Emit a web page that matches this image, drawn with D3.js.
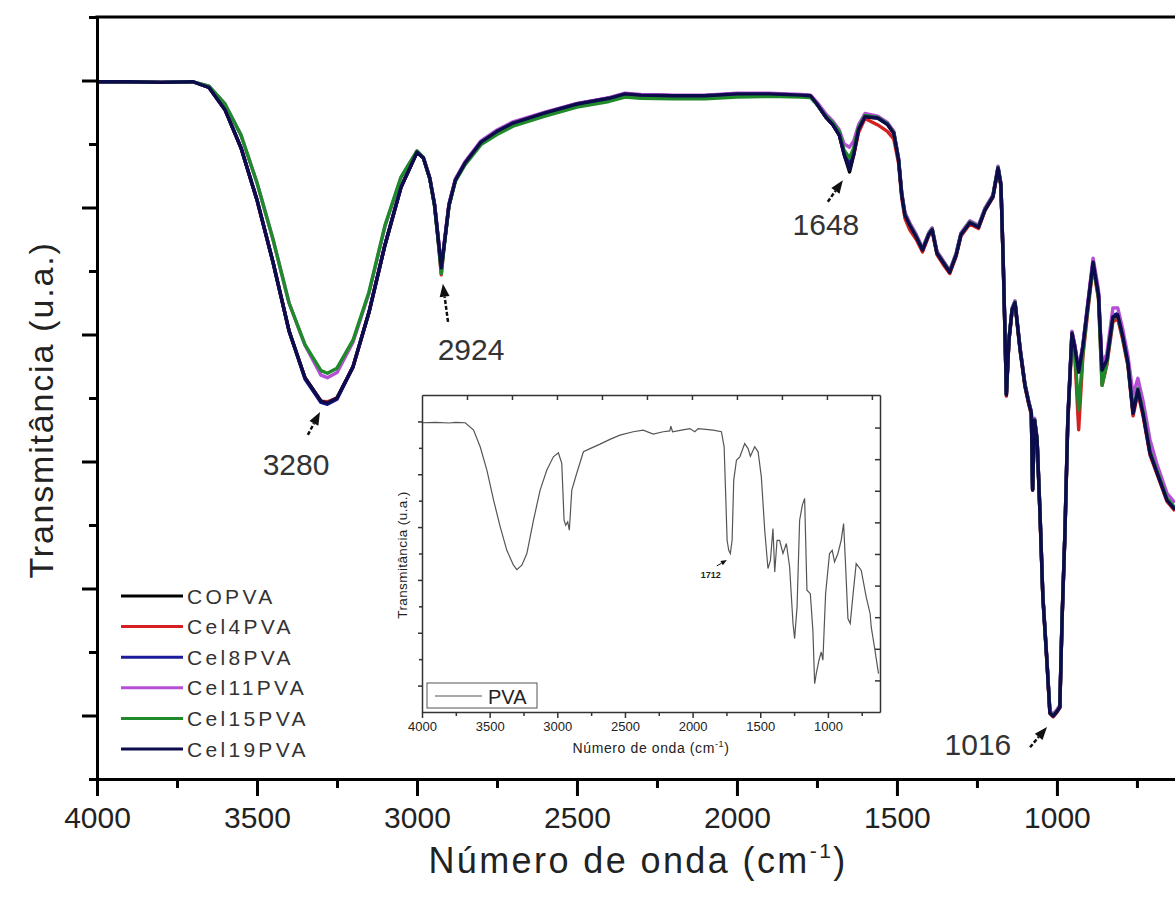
<!DOCTYPE html>
<html><head><meta charset="utf-8">
<script src="https://cdn.jsdelivr.net/npm/d3@7"></script>
<style>body{margin:0;background:#fff}svg{display:block}text{font-family:"Liberation Sans",Arial,sans-serif}</style>
</head><body><svg id="c" width="1175" height="900"></svg>
<script>
// ---------- data ----------
const seriesNames = ["COPVA","Cel4PVA","Cel8PVA","Cel11PVA","Cel15PVA","Cel19PVA"];
const seriesColors = ["#000000","#d42020","#1c1c9a","#b44fd6","#1f8a2a","#0c0c4c"];
const wavenumbers = [4000,3900,3800,3700,3650,3600,3550,3500,3450,3400,
 3350,3300,3280,3250,3200,3150,3100,3050,3000,2980,
 2960,2945,2935,2924,2915,2900,2880,2850,2800,2750,
 2700,2600,2500,2400,2350,2300,2200,2100,2000,1900,
 1800,1770,1750,1720,1700,1680,1665,1648,1635,1620,
 1600,1560,1530,1510,1495,1485,1475,1460,1440,1420,
 1400,1390,1375,1355,1335,1315,1300,1272,1245,1225,
 1200,1184,1175,1168,1162,1158,1150,1140,1131,1115,
 1100,1088,1080,1076,1070,1062,1053,1044,1031,1022,
 1012,1000,991,984,975,966,953,944,932,919,
 905,887,878,870,859,844,825,810,795,778,
 762,747,731,709,687,656,631];
const copva = [109.8,109.8,109.7,109.8,108.9,105.4,99.4,91.2,81.4,70.6,
 63.2,59.5,59.2,60.0,64.9,73.5,84.1,93.2,98.7,97.8,
 94.6,90.4,85.7,80.5,84.1,90.4,94.3,97.0,100.3,102.0,
 103.3,104.9,106.3,107.2,107.9,107.7,107.6,107.6,107.9,107.9,
 107.7,107.6,106.3,104.1,103.0,101.4,98.3,95.6,98.3,102.2,
 104.3,104.1,103.1,101.7,97.5,92.0,88.8,87.2,85.4,83.3,
 85.8,86.5,82.8,81.3,79.8,82.5,85.7,87.6,86.9,89.6,
 91.7,96.2,93.5,81.7,69.6,60.5,69.1,73.9,75.0,67.6,
 62.0,59.2,57.6,45.5,56.5,53.4,41.9,28.7,18.3,10.4,
 9.9,10.6,11.3,25.0,38.7,56.5,70.2,68.0,64.1,68.0,
 73.9,81.4,78.6,76.2,64.4,66.0,72.8,73.1,69.9,65.5,
 57.6,61.3,57.6,51.3,48.2,43.9,42.4];
const cel4pva = [109.8,109.8,109.7,109.8,108.9,105.4,99.4,91.2,81.4,70.6,
 63.2,59.5,59.4,60.0,64.9,73.5,84.1,93.2,98.7,97.8,
 94.6,90.4,85.5,79.4,84.1,90.4,94.3,97.0,100.3,102.0,
 103.3,104.9,106.3,107.2,107.9,107.7,107.6,107.6,107.9,107.9,
 107.7,107.6,106.3,104.1,103.0,101.4,98.6,96.5,98.3,101.8,
 104.0,103.0,102.0,100.8,97.0,91.5,88.3,86.5,85.0,83.0,
 85.6,86.3,82.6,81.0,79.6,82.3,85.5,87.4,86.7,89.5,
 91.6,96.0,93.3,81.5,69.4,60.3,69.0,73.7,74.8,67.4,
 61.8,59.0,57.4,45.5,56.3,53.2,41.7,28.5,18.1,10.3,
 9.8,10.5,11.2,24.8,38.5,56.0,69.5,66.5,55.0,66.5,
 73.0,80.8,78.0,75.5,62.0,65.2,72.0,72.5,69.3,65.0,
 57.2,60.8,57.2,51.0,48.0,43.7,42.2];
const cel8pva = [109.8,109.8,109.7,109.8,108.9,105.4,99.4,91.2,81.4,70.6,
 63.0,59.3,59.0,59.8,64.9,73.5,84.1,93.2,98.7,97.8,
 94.6,90.4,85.7,80.5,84.1,90.4,94.3,97.0,100.3,102.0,
 103.3,104.9,106.3,107.2,107.9,107.7,107.6,107.6,107.9,107.9,
 107.7,107.6,106.3,104.1,103.0,101.4,98.6,96.8,98.6,102.4,
 104.4,104.2,103.3,101.9,97.7,92.2,89.0,87.4,85.6,83.5,
 86.0,86.7,83.0,81.5,80.0,82.7,85.9,87.8,87.1,89.8,
 91.9,96.4,93.7,81.9,69.8,60.7,69.3,74.1,75.2,67.8,
 62.2,59.4,57.8,45.7,56.7,53.6,42.1,28.9,18.5,10.6,
 10.1,10.8,11.5,25.2,38.9,56.7,70.4,68.2,64.3,68.2,
 74.1,81.6,78.8,76.4,64.6,66.2,73.0,73.3,70.1,65.7,
 57.8,61.5,57.8,51.5,48.4,44.1,42.6];
const cel11pva = [109.8,109.8,109.7,109.8,109.1,106.3,101.4,93.9,85.0,75.0,
 68.3,63.6,63.2,64.0,68.8,76.5,87.0,94.7,98.9,97.9,
 94.7,90.6,86.0,80.8,84.4,90.6,94.5,97.2,100.5,102.2,
 103.5,105.0,106.4,107.3,108.0,107.8,107.7,107.7,108.0,108.0,
 107.8,107.7,106.6,104.6,103.6,102.2,100.0,99.5,100.5,103.0,
 104.8,104.4,103.4,102.0,97.8,92.4,89.2,87.6,85.8,83.6,
 86.1,86.8,83.1,81.6,80.1,82.8,86.0,87.9,87.2,89.9,
 92.0,96.5,93.8,82.0,69.9,60.8,69.4,74.2,75.3,67.9,
 62.3,59.5,57.9,45.8,56.8,53.7,42.2,29.0,18.6,10.7,
 10.2,10.9,11.6,25.3,39.0,56.8,70.5,68.3,64.5,68.4,
 74.4,82.0,79.4,77.0,65.2,67.0,74.2,74.2,71.0,66.6,
 60.5,63.1,59.6,53.4,49.5,45.0,43.5];
const cel15pva = [109.8,109.8,109.7,109.8,109.1,106.3,101.4,93.9,85.0,75.0,
 68.4,64.3,63.9,64.7,69.1,76.7,87.2,94.8,98.9,97.9,
 94.5,90.2,85.4,79.6,83.9,90.2,94.1,96.7,99.9,101.5,
 102.8,104.4,105.8,106.7,107.4,107.2,107.1,107.1,107.4,107.5,
 107.4,107.3,106.2,104.3,103.3,101.9,99.0,97.8,99.4,102.6,
 104.5,104.2,103.2,101.8,97.6,92.1,88.9,87.3,85.5,83.4,
 85.9,86.6,82.9,81.4,79.9,82.6,85.8,87.7,87.0,89.7,
 91.8,96.3,93.6,81.8,69.7,60.6,69.2,74.0,75.1,67.7,
 62.1,59.3,57.7,45.6,56.6,53.5,42.0,28.8,18.4,10.5,
 10.0,10.7,11.4,25.1,38.8,56.2,69.8,67.2,58.1,67.0,
 73.5,81.0,78.3,75.8,62.0,65.5,72.6,72.9,69.7,65.3,
 57.8,61.5,57.9,51.6,48.5,44.2,42.7];
const cel19pva = [109.8,109.8,109.7,109.8,108.9,105.4,99.4,91.2,81.4,70.6,
 63.2,59.5,59.2,60.0,64.9,73.5,84.1,93.2,98.7,97.8,
 94.6,90.4,85.7,80.5,84.1,90.4,94.3,97.0,100.3,102.0,
 103.3,104.9,106.3,107.2,107.9,107.7,107.6,107.6,107.9,107.9,
 107.7,107.6,106.3,104.1,103.0,101.4,98.4,96.0,98.4,102.3,
 104.3,104.1,103.1,101.7,97.5,92.0,88.8,87.2,85.4,83.3,
 85.8,86.5,82.8,81.3,79.8,82.5,85.7,87.6,86.9,89.6,
 91.7,96.2,93.5,81.7,69.6,60.5,69.1,73.9,75.0,67.6,
 62.0,59.2,57.6,45.5,56.5,53.4,41.9,28.7,18.3,10.4,
 9.9,10.6,11.3,25.0,38.7,56.5,70.2,68.0,64.1,68.0,
 73.9,81.4,78.6,76.2,64.4,66.0,72.8,73.1,69.9,65.5,
 57.6,61.3,57.6,51.3,48.2,43.9,42.4];
const seriesValues = [copva, cel4pva, cel8pva, cel11pva, cel15pva, cel19pva];

const xMajorTicks = [4000,3500,3000,2500,2000,1500,1000];
const xMinorTicks = [3750,3250,2750,2250,1750,1250,750];
const yMajorTicks = [10,30,50,70,90,110];
const yMinorTicks = [0,20,40,60,80,100,120];

const peakLabels = ["3280","2924","1648","1016"];
const peakTextWn = [3378,2831,1722,1247];
const peakTextT  = [47.9,66.0,85.7,3.8];
const peakHeadWn = [3303,2919,1669,1031];
const peakHeadT  = [57.8,78.0,94.3,8.2];
const peakTailWn = [3341,2903,1716,1084];
const peakTailT  = [54.2,72.0,90.9,5.0];

// inset (PVA)
const pvaWn = [4000,3900,3800,3750,3680,3619,3570,3520,3471,3422,
 3373,3324,3299,3262,3225,3176,3127,3078,3029,2992,
 2967,2950,2938,2923,2911,2893,2857,2807,2758,2684,
 2611,2537,2439,2365,2291,2217,2168,2161,2148,2082,
 2020,1984,1959,1848,1787,1767,1755,1745,1733,1721,
 1708,1696,1676,1651,1615,1590,1573,1541,1516,1492,
 1467,1443,1425,1406,1393,1376,1357,1332,1307,1283,
 1258,1246,1228,1209,1189,1172,1155,1130,1111,1098,
 1086,1066,1049,1037,1017,988,968,951,926,902,
 884,870,852,835,816,791,754,717,688,680,
 656,626];
const pvaT = [109.5,109.6,109.4,109.6,109.5,106.7,100.4,91.5,80.2,70.1,
 61.2,55.6,53.9,55.6,60.0,72.6,84.0,91.5,96.6,98.1,
 94.1,72.6,70.7,72.0,68.8,84.0,90.3,98.5,99.7,101.4,
 103.2,104.8,106.1,106.7,105.2,106.1,106.4,108.2,106.1,106.7,
 107.3,106.1,107.3,106.7,106.1,100.4,81.4,65.0,61.2,60.0,
 65.0,87.8,95.3,96.6,101.6,99.7,96.8,100.4,98.5,89.0,
 68.8,54.3,57.4,69.4,53.0,65.0,65.0,60.0,63.8,54.9,
 33.5,27.8,39.8,72.6,78.3,80.8,46.1,44.8,30.9,10.7,
 14.5,19.6,22.7,19.6,44.8,60.0,61.2,56.8,60.0,65.0,
 71.3,56.2,35.4,33.5,43.6,56.2,53.7,43.6,37.2,32.2,
 24.6,14.5];
const insetXMajor = [4000,3500,3000,2500,2000,1500,1000];
const insetXMinor = [3750,3250,2750,2250,1750,1250,750];
const insetYMajor = [10,30,50,70,90,110];
const insetYMinor = [20,40,60,80,100];
const insetTopTicks = [1,2,3,4,5,6,7,8,9,10];
const insetRightTicks = [1,2,3,4,5,6,7,8,9];
const insetLabel = "1712", insetLabelWn = 1865, insetLabelT = 50.7;
const insetHeadWn = 1747, insetHeadT = 57.5, insetTailWn = 1821, insetTailT = 55.3;

// ---------- drawing ----------
const svg = d3.select("#c");
const L = 97, R = 1175, T = 17, B = 779;
const x = d3.scaleLinear().domain([4000, 631]).range([L, R]);
const y = d3.scaleLinear().domain([0, 120]).range([B, T]);

svg.append("defs").append("clipPath").attr("id","clipMain")
  .append("rect").attr("x",L).attr("y",T).attr("width",R-L).attr("height",B-T);

// curves
const gCurves = svg.append("g").attr("clip-path","url(#clipMain)");
seriesValues.forEach((vals, i) => {
  const pts = wavenumbers.map((w, j) => [w, vals[j]]);
  gCurves.append("path").datum(pts)
    .attr("fill","none").attr("stroke",seriesColors[i]).attr("stroke-width",3.4)
    .attr("stroke-linejoin","round")
    .attr("d", d3.line().x(d => x(d[0])).y(d => y(d[1])));
});

// axes
const axStyle = g => { g.selectAll("path.domain").attr("stroke","#000").attr("stroke-width",3);
  g.selectAll(".tick line").attr("stroke","#000").attr("stroke-width",3); };
const gx = svg.append("g").attr("transform",`translate(0,${B})`)
  .call(d3.axisBottom(x).tickValues(xMajorTicks).tickSize(17).tickSizeOuter(0).tickPadding(11).tickFormat(d3.format("d")));
axStyle(gx);
gx.selectAll("text").attr("font-size",30).attr("fill","#222").attr("font-family",'"Liberation Sans",Arial,sans-serif');
const gxm = svg.append("g").attr("transform",`translate(0,${B})`)
  .call(d3.axisBottom(x).tickValues(xMinorTicks).tickSize(9).tickFormat(""));
axStyle(gxm); gxm.select("path.domain").remove();

const gy = svg.append("g").attr("transform",`translate(${L},0)`)
  .call(d3.axisLeft(y).tickValues(yMajorTicks).tickSize(15).tickSizeOuter(0).tickFormat(""));
axStyle(gy);
const gym = svg.append("g").attr("transform",`translate(${L},0)`)
  .call(d3.axisLeft(y).tickValues(yMinorTicks).tickSize(8).tickFormat(""));
axStyle(gym); gym.select("path.domain").remove();
// top border
svg.append("line").attr("x1",L-1.5).attr("x2",R).attr("y1",T).attr("y2",T).attr("stroke","#000").attr("stroke-width",3);

// titles
const xt = svg.append("text").attr("x",638).attr("y",873).attr("text-anchor","middle")
  .attr("font-size",36).attr("fill","#222").attr("letter-spacing",2.4);
xt.append("tspan").text("Número de onda (cm");
xt.append("tspan").attr("dy",-15).attr("font-size",21).text("-1");
xt.append("tspan").attr("dy",15).text(")");
svg.append("text").attr("transform","translate(53,410) rotate(-90)").attr("text-anchor","middle")
  .attr("font-size",34).attr("fill","#222").attr("letter-spacing",1.8).text("Transmitância (u.a.)");

// peak annotations
function arrow(g, x1, y1, x2, y2, len, hw, sw){
  const a = Math.atan2(y2-y1, x2-x1);
  const bx = x2 - len*Math.cos(a), by = y2 - len*Math.sin(a);
  g.append("line").attr("x1",x1).attr("y1",y1).attr("x2",bx).attr("y2",by)
    .attr("stroke","#111").attr("stroke-width",sw).attr("stroke-dasharray", sw>1 ? "4,2" : null);
  const px = -Math.sin(a)*hw, py = Math.cos(a)*hw;
  g.append("path").attr("d",`M${x2},${y2}L${bx+px},${by+py}L${bx-px},${by-py}Z`).attr("fill","#111");
}
const gAnn = svg.append("g");
peakLabels.forEach((lab, i) => {
  gAnn.append("text").attr("x",x(peakTextWn[i])).attr("y",y(peakTextT[i])).attr("text-anchor","middle")
    .attr("font-size",30).attr("fill","#333").text(lab);
  arrow(gAnn, x(peakTailWn[i]), y(peakTailT[i]), x(peakHeadWn[i]), y(peakHeadT[i]), 13, 5, 2.5);
});

// legend
const gLeg = svg.append("g");
seriesNames.forEach((n, i) => {
  const yy = 596 + i*30.6;
  gLeg.append("line").attr("x1",121).attr("x2",183).attr("y1",yy).attr("y2",yy)
    .attr("stroke",seriesColors[i]).attr("stroke-width",3);
  gLeg.append("text").attr("x",187).attr("y",yy+7.5).attr("font-size",21).attr("letter-spacing",3.3)
    .attr("fill","#333").text(n);
});

// ---------- inset ----------
const iL = 422, iR = 880, iT = 395, iB = 712;
const xi = d3.scaleLinear().domain([4000, 615]).range([iL, iR]);
const yi = d3.scaleLinear().domain([0, 120]).range([iB, iT]);
const xTop = d3.scaleLinear().domain([0, 10.18]).range([iL, iR]);
const yRight = d3.scaleLinear().domain([0, 10.03]).range([iB, iT]);
const gi = svg.append("g");
gi.append("rect").attr("x",iL).attr("y",iT).attr("width",iR-iL).attr("height",iB-iT).attr("fill","#fff");
svg.append("defs").append("clipPath").attr("id","clipInset")
  .append("rect").attr("x",iL).attr("y",iT).attr("width",iR-iL).attr("height",iB-iT);
gi.append("path").datum(pvaWn.map((w,j)=>[w,pvaT[j]])).attr("clip-path","url(#clipInset)")
  .attr("fill","none").attr("stroke","#555").attr("stroke-width",1.2)
  .attr("d", d3.line().x(d=>xi(d[0])).y(d=>yi(d[1])));
const inStyle = g => { g.selectAll("path.domain").attr("stroke","#333").attr("stroke-width",1.5);
  g.selectAll(".tick line").attr("stroke","#333").attr("stroke-width",1.5); };
const gix = gi.append("g").attr("transform",`translate(0,${iB})`)
  .call(d3.axisBottom(xi).tickValues(insetXMajor).tickSize(6).tickSizeOuter(0).tickPadding(4).tickFormat(d3.format("d")));
inStyle(gix); gix.selectAll("text").attr("font-size",13).attr("fill","#222").attr("font-family",'"Liberation Sans",Arial,sans-serif');
const gixm = gi.append("g").attr("transform",`translate(0,${iB})`)
  .call(d3.axisBottom(xi).tickValues(insetXMinor).tickSize(4).tickFormat(""));
inStyle(gixm); gixm.select("path.domain").remove();
const giy = gi.append("g").attr("transform",`translate(${iL},0)`)
  .call(d3.axisLeft(yi).tickValues(insetYMajor).tickSize(4).tickSizeOuter(0).tickFormat(""));
inStyle(giy);
const giym = gi.append("g").attr("transform",`translate(${iL},0)`)
  .call(d3.axisLeft(yi).tickValues(insetYMinor).tickSize(3).tickFormat(""));
inStyle(giym); giym.select("path.domain").remove();
const git = gi.append("g").attr("transform",`translate(0,${iT})`)
  .call(d3.axisBottom(xTop).tickValues(insetTopTicks).tickSize(5).tickSizeOuter(0).tickFormat(""));
inStyle(git);
const gir = gi.append("g").attr("transform",`translate(${iR},0)`)
  .call(d3.axisLeft(yRight).tickValues(insetRightTicks).tickSize(5).tickSizeOuter(0).tickFormat(""));
inStyle(gir);
const xti = gi.append("text").attr("x",651).attr("y",753).attr("text-anchor","middle")
  .attr("font-size",14).attr("fill","#222").attr("letter-spacing",0.6);
xti.append("tspan").text("Número de onda (cm");
xti.append("tspan").attr("dy",-6).attr("font-size",9).text("-1");
xti.append("tspan").attr("dy",6).text(")");
gi.append("text").attr("transform","translate(407,555) rotate(-90)").attr("text-anchor","middle")
  .attr("font-size",13.5).attr("fill","#222").attr("letter-spacing",0.4).text("Transmitância (u.a.)");
gi.append("text").attr("x",xi(insetLabelWn)).attr("y",yi(insetLabelT)).attr("text-anchor","middle")
  .attr("font-size",9).attr("font-weight","bold").attr("fill","#222").text(insetLabel);
arrow(gi, xi(insetTailWn), yi(insetTailT), xi(insetHeadWn), yi(insetHeadT), 6, 2.5, 1);
// inset legend
gi.append("rect").attr("x",427).attr("y",683).attr("width",110).attr("height",25)
  .attr("fill","#fff").attr("stroke","#555").attr("stroke-width",1);
gi.append("line").attr("x1",435).attr("x2",482).attr("y1",696).attr("y2",696).attr("stroke","#555").attr("stroke-width",1.2);
gi.append("text").attr("x",488).attr("y",703.5).attr("font-size",20).attr("fill","#222").text("PVA");
</script></body></html>
